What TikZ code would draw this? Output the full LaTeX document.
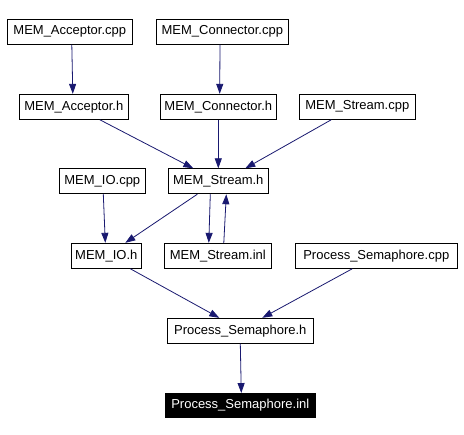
\documentclass[tikz,border=0pt]{standalone}
\usepackage{fontspec}
\setmainfont{Liberation Sans}
\usetikzlibrary{arrows.meta}
\definecolor{edgeblue}{RGB}{25,25,112}
\tikzset{
  box/.style={draw=black, line width=0.9pt, fill=white, inner sep=0pt, minimum height=25pt, font=\fontsize{13}{15}\selectfont},
  dark/.style={box, fill=black, text=white},
  dep/.style={draw=edgeblue, line width=0.8pt, -{Triangle[length=10pt,width=7pt]}}
}
\begin{document}
\begin{tikzpicture}[x=1pt,y=-1pt]
\useasboundingbox[fill=white] (0,0) rectangle (464,435);
\node[box, minimum width=125pt] (MAcpp) at (69.8,31.8) {MEM\_Acceptor.cpp};
\node[box, minimum width=132pt] (MCcpp) at (222.3,31.8) {MEM\_Connector.cpp};
\node[box, minimum width=109pt] (MAh) at (73.8,106.8) {MEM\_Acceptor.h};
\node[box, minimum width=116pt] (MCh) at (218.3,106.8) {MEM\_Connector.h};
\node[box, minimum width=116pt] (MScpp) at (357.3,106.8) {MEM\_Stream.cpp};
\node[box, minimum width=86pt] (MIOcpp) at (102.3,181.3) {MEM\_IO.cpp};
\node[box, minimum width=100pt] (MSh) at (218.3,181.3) {MEM\_Stream.h};
\node[box, minimum width=70pt] (MIOh) at (106.3,255.8) {MEM\_IO.h};
\node[box, minimum width=107pt] (MSinl) at (217.8,255.8) {MEM\_Stream.inl};
\node[box, minimum width=162pt] (PScpp) at (376.3,255.8) {Process\_Semaphore.cpp};
\node[box, minimum width=146pt] (PSh) at (240.3,330.8) {Process\_Semaphore.h};
\node[dark, minimum width=150pt, minimum height=24pt] (PSinl) at (240.3,405.5) {Process\_Semaphore.inl};

\draw[dep] ([xshift=2]MAcpp.south) -- ([xshift=-1]MAh.north);
\draw[dep] ([xshift=-2.3]MCcpp.south) -- ([xshift=1.4]MCh.north);
\draw[dep] ([xshift=26]MAh.south) -- ([xshift=-25]MSh.north);
\draw[dep] (MCh.south) -- (MSh.north);
\draw[dep] ([xshift=-26]MScpp.south) -- ([xshift=27]MSh.north);
\draw[dep] ([xshift=1]MIOcpp.south) -- ([xshift=-1]MIOh.north);
\draw[dep] ([xshift=-21]MSh.south) -- ([xshift=19]MIOh.north);
\draw[dep] ([xshift=-8]MSh.south) -- ([xshift=-9]MSinl.north);
\draw[dep] ([xshift=6]MSinl.north) -- ([xshift=8]MSh.south);
\draw[dep] ([xshift=24]MIOh.south) -- ([xshift=-21]PSh.north);
\draw[dep] ([xshift=-24]PScpp.south) -- ([xshift=22]PSh.north);
\draw[dep] (PSh.south) -- ([xshift=1]PSinl.north);
\end{tikzpicture}
\end{document}
